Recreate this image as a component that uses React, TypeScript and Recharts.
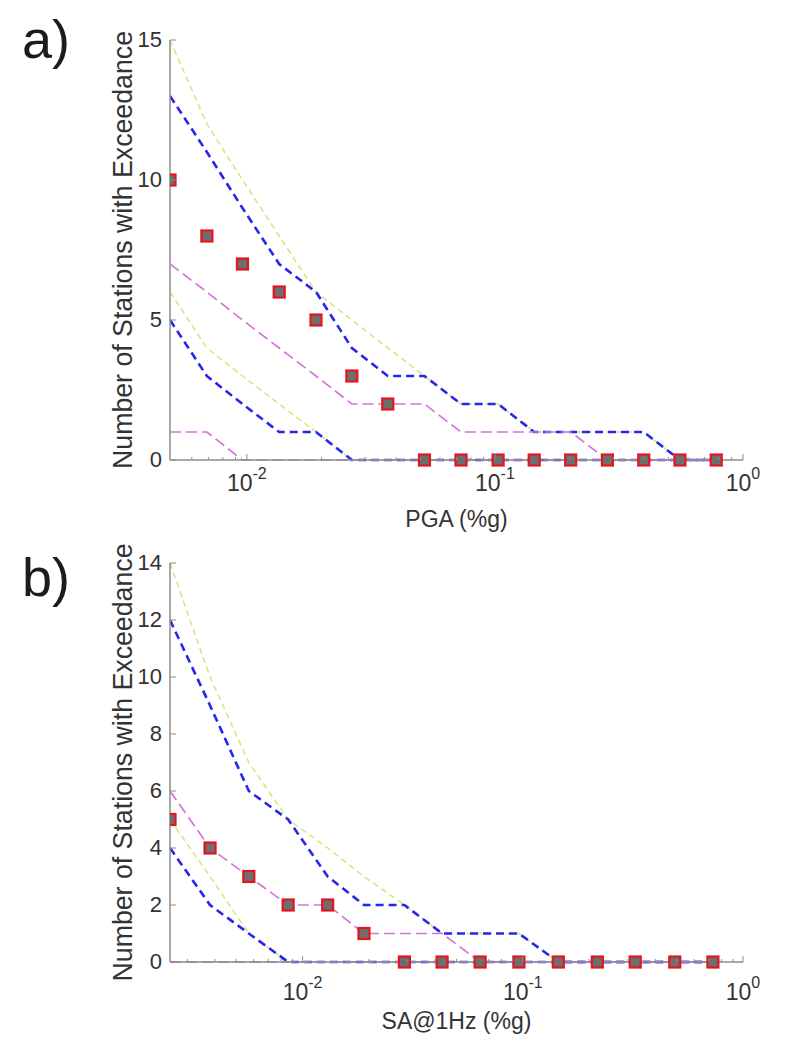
import React from 'react';
import { LineChart, Line, XAxis, YAxis } from 'recharts';

// panel a: PGA
const pgaX = [0.0049, 0.0069, 0.0096, 0.0135, 0.019, 0.0265, 0.037, 0.052, 0.073, 0.103, 0.144, 0.202, 0.284, 0.398, 0.557, 0.78];
const pgaObserved = [10, 8, 7, 6, 5, 3, 2, 0, 0, 0, 0, 0, 0, 0, 0, 0];
const pgaGreenUpper = [15, 12, 10, 8, 6, 5, 4, 3, 2, 2, 1, 1, 1, 1, 0, 0];
const pgaBlueUpper = [13, 11, 9, 7, 6, 4, 3, 3, 2, 2, 1, 1, 1, 1, 0, 0];
const pgaMedian = [7, 6, 5, 4, 3, 2, 2, 2, 1, 1, 1, 1, 0, 0, 0, 0];
const pgaGreenLower = [6, 4, 3, 2, 1, 0, 0, 0, 0, 0, 0, 0, 0, 0, 0, 0];
const pgaBlueLower = [5, 3, 2, 1, 1, 0, 0, 0, 0, 0, 0, 0, 0, 0, 0, 0];
const pgaMagentaLower = [1, 1, 0, 0, 0, 0, 0, 0, 0, 0, 0, 0, 0, 0, 0, 0];
const pgaYTicks = [0, 5, 10, 15];

// panel b: SA@1Hz
const saX = [0.0025, 0.0038, 0.0057, 0.0086, 0.013, 0.019, 0.029, 0.043, 0.064, 0.096, 0.145, 0.218, 0.324, 0.49, 0.73];
const saObserved = [5, 4, 3, 2, 2, 1, 0, 0, 0, 0, 0, 0, 0, 0, 0];
const saGreenUpper = [14, 10, 7, 5, 4, 3, 2, 1, 1, 1, 0, 0, 0, 0, 0];
const saBlueUpper = [12, 9, 6, 5, 3, 2, 2, 1, 1, 1, 0, 0, 0, 0, 0];
const saMedian = [6, 4, 3, 2, 2, 1, 1, 1, 0, 0, 0, 0, 0, 0, 0];
const saGreenLower = [5, 3, 1, 0, 0, 0, 0, 0, 0, 0, 0, 0, 0, 0, 0];
const saBlueLower = [4, 2, 1, 0, 0, 0, 0, 0, 0, 0, 0, 0, 0, 0, 0];
const saMagentaLower = [0, 0, 0, 0, 0, 0, 0, 0, 0, 0, 0, 0, 0, 0, 0];
const saYTicks = [0, 2, 4, 6, 8, 10, 12, 14];

// log axis ticks (majors get a label, the rest are minor marks)
const pgaXTicks = [0.006, 0.007, 0.008, 0.009, 0.01, 0.02, 0.03, 0.04, 0.05, 0.06, 0.07, 0.08, 0.09, 0.1, 0.2, 0.3, 0.4, 0.5, 0.6, 0.7, 0.8, 0.9, 1];
const saXTicks = [0.003, 0.004, 0.005, 0.006, 0.007, 0.008, 0.009, 0.01, 0.02, 0.03, 0.04, 0.05, 0.06, 0.07, 0.08, 0.09, 0.1, 0.2, 0.3, 0.4, 0.5, 0.6, 0.7, 0.8, 0.9, 1];

const FONT = '"Liberation Sans", Arial, Helvetica, sans-serif';
const INK = '#333333';
const AXIS = '#8c8c8c';
const GREEN = '#d0e475';
const BLUE = '#2626ee';
const MAGENTA = '#d873dc';

const buildRows = (xs, obs, gU, bU, med, gL, bL, mL) =>
  xs.map((x, i) => ({ x, obs: obs[i], gU: gU[i], bU: bU[i], med: med[i], gL: gL[i], bL: bL[i], mL: mL[i] }));

const pgaRows = buildRows(pgaX, pgaObserved, pgaGreenUpper, pgaBlueUpper, pgaMedian, pgaGreenLower, pgaBlueLower, pgaMagentaLower);
const saRows = buildRows(saX, saObserved, saGreenUpper, saBlueUpper, saMedian, saGreenLower, saBlueLower, saMagentaLower);

const XTick = (props: any) => {
  const { x, y, payload, labelDy } = props;
  const lg = Math.log10(payload.value);
  const e = Math.round(lg);
  const major = Math.abs(lg - e) < 1e-6;
  return (
    <g>
      <line x1={x} x2={x} y1={y} y2={y - (major ? 6 : 3)} stroke={AXIS} strokeWidth={1} />
      {major && (
        <text x={x} y={y + labelDy} textAnchor="middle" fontSize={23} fill={INK} fontFamily={FONT}>
          10
          <tspan dy={-12} fontSize={16}>{e}</tspan>
        </text>
      )}
    </g>
  );
};

const YTick = (props: any) => {
  const { x, y, payload } = props;
  return (
    <g>
      <line x1={x} x2={x + 6} y1={y} y2={y} stroke={AXIS} strokeWidth={1} />
      <text x={x - 8} y={y + 7} textAnchor="end" fontSize={22} fill={INK} fontFamily={FONT}>
        {payload.value}
      </text>
    </g>
  );
};

const XTitle = (props: any) => {
  const { viewBox, text, dy } = props;
  return (
    <text x={viewBox.x + viewBox.width / 2} y={viewBox.y + dy} textAnchor="middle" fontSize={23} fill={INK} fontFamily={FONT}>
      {text}
    </text>
  );
};

const YTitle = (props: any) => {
  const { viewBox } = props;
  const cx = viewBox.x + viewBox.width - 38;
  const cy = viewBox.y + viewBox.height / 2;
  return (
    <text
      transform={`translate(${cx}, ${cy}) rotate(-90)`}
      textAnchor="middle"
      fontSize={27}
      textLength={438}
      lengthAdjust="spacingAndGlyphs"
      fill={INK}
      fontFamily={FONT}
    >
      Number of Stations with Exceedance
    </text>
  );
};

const squareDot = (p: any) => (
  <rect key={`sq-${p.index}`} x={p.cx - 5.5} y={p.cy - 5.5} width={11} height={11} fill="#6e6e6e" stroke="#e3161e" strokeWidth={2.2} />
);

const Panel = ({ rows, domain, xTicks, yDomain, yTicks, title, height, top, plotHeight, labelDy }: any) => (
  <LineChart width={787} height={height} data={rows} margin={{ top, right: 44, left: 100, bottom: 0 }}>
    <XAxis
      dataKey="x"
      type="number"
      scale="log"
      domain={domain}
      allowDataOverflow
      ticks={xTicks}
      interval={0}
      tickSize={0}
      tickMargin={0}
      tickLine={false}
      axisLine={{ stroke: AXIS, strokeWidth: 1.5 }}
      tick={(p: any) => <XTick {...p} labelDy={labelDy} />}
      height={height - top - plotHeight}
      label={<XTitle text={title} dy={67} />}
    />
    <YAxis
      type="number"
      domain={yDomain}
      ticks={yTicks}
      interval={0}
      width={70}
      tickSize={0}
      tickMargin={0}
      tickLine={false}
      axisLine={{ stroke: AXIS, strokeWidth: 1.5 }}
      tick={(p: any) => <YTick {...p} />}
      label={<YTitle />}
    />
    <Line type="linear" dataKey="gU" stroke={GREEN} strokeWidth={1.4} strokeDasharray="6 4" dot={false} activeDot={false} isAnimationActive={false} />
    <Line type="linear" dataKey="gL" stroke={GREEN} strokeWidth={1.4} strokeDasharray="6 4" dot={false} activeDot={false} isAnimationActive={false} />
    <Line type="linear" dataKey="bU" stroke={BLUE} strokeWidth={2.6} strokeDasharray="8 5" dot={false} activeDot={false} isAnimationActive={false} />
    <Line type="linear" dataKey="bL" stroke={BLUE} strokeWidth={2.6} strokeDasharray="8 5" dot={false} activeDot={false} isAnimationActive={false} />
    <Line type="linear" dataKey="med" stroke={MAGENTA} strokeWidth={1.7} strokeDasharray="11 5" dot={false} activeDot={false} isAnimationActive={false} />
    <Line type="linear" dataKey="mL" stroke={MAGENTA} strokeWidth={1.7} strokeDasharray="11 5" dot={false} activeDot={false} isAnimationActive={false} />
    <Line type="linear" dataKey="obs" stroke="none" dot={squareDot} activeDot={false} isAnimationActive={false} />
  </LineChart>
);

const PanelLetter = ({ text, y }: any) => (
  <svg width={120} height={90} style={{ position: 'absolute', left: 0, top: y - 70 }}>
    <text x={22} y={70} fontSize={54} fill="#1c1c1c" fontFamily={FONT}>
      {text}
    </text>
  </svg>
);

export default function App() {
  return (
    <div style={{ position: 'absolute', left: 0, top: 0, width: 787, height: 1041, background: '#fff', overflow: 'hidden' }}>
      <div style={{ position: 'absolute', left: 0, top: 0 }}>
        <Panel rows={pgaRows} domain={[0.0049, 1]} xTicks={pgaXTicks} yDomain={[0, 15]} yTicks={pgaYTicks} title="PGA (%g)" height={540} top={40} plotHeight={420} labelDy={31} />
      </div>
      <div style={{ position: 'absolute', left: 0, top: 540 }}>
        <Panel rows={saRows} domain={[0.0025, 1]} xTicks={saXTicks} yDomain={[0, 14]} yTicks={saYTicks} title="SA@1Hz (%g)" height={501} top={23} plotHeight={399} labelDy={38} />
      </div>
      <PanelLetter text="a)" y={58} />
      <PanelLetter text="b)" y={596} />
    </div>
  );
}
